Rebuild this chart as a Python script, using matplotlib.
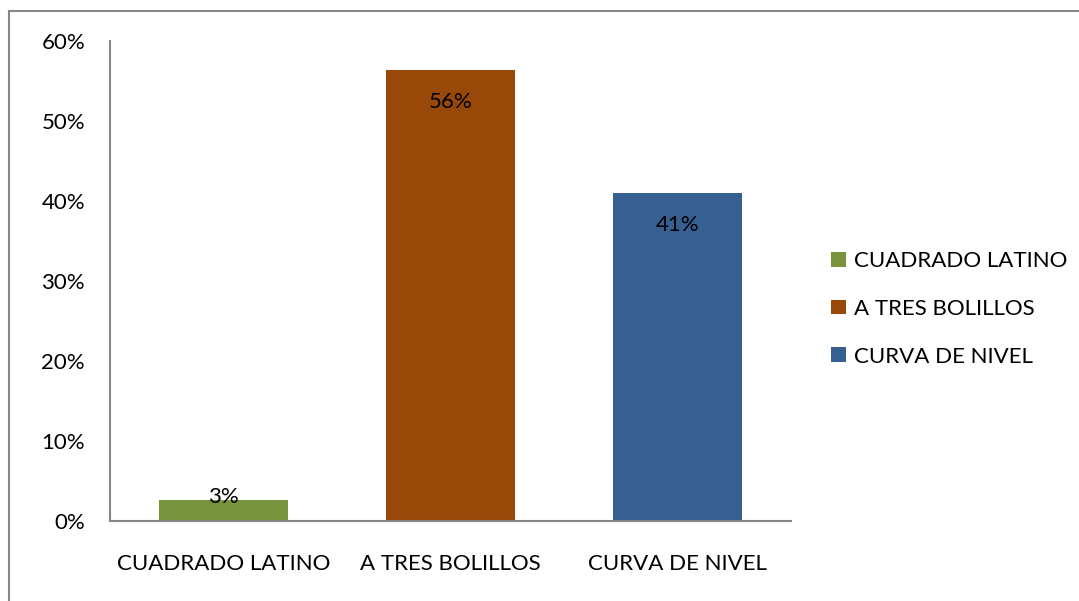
import matplotlib.pyplot as plt
from matplotlib.patches import Rectangle
from matplotlib.ticker import PercentFormatter

categories = ["CUADRADO LATINO", "A TRES BOLILLOS", "CURVA DE NIVEL"]
values = [0.026, 0.564, 0.41]
colors = ["#77933C", "#984807", "#376092"]
yticks = [0, 0.1, 0.2, 0.3, 0.4, 0.5, 0.6]

plt.rcParams['font.family'] = ['Lato', 'DejaVu Sans']
fs = 16

fig = plt.figure(figsize=(10.79, 6.01), dpi=100)
ax = fig.add_axes([0.102, 0.133, 0.631, 0.799])

x = range(len(categories))
bars = ax.bar(x, values, width=0.57, color=colors, label=categories)

for b, v in zip(bars, values):
    h = b.get_height()
    if h > 0.1:
        ax.text(b.get_x() + b.get_width() / 2, h - 0.028, f"{v:.0%}",
                ha="center", va="top", fontsize=fs)
    else:
        ax.text(b.get_x() + b.get_width() / 2, h - 0.008, f"{v:.0%}",
                ha="center", va="bottom", fontsize=fs)

ax.set_xlim(-0.5, 2.5)
ax.set_ylim(0, 0.6)
ax.set_yticks(yticks)
ax.yaxis.set_major_formatter(PercentFormatter(1.0, decimals=0))
ax.set_xticks(list(x))
ax.set_xticklabels(categories)
ax.tick_params(axis="both", length=0, labelsize=fs)
ax.tick_params(axis="y", pad=18)
ax.tick_params(axis="x", pad=24)

for s in ["top", "right"]:
    ax.spines[s].set_visible(False)
for s in ["left", "bottom"]:
    ax.spines[s].set_color("#868686")
    ax.spines[s].set_linewidth(1.5)

leg = ax.legend(handles=list(bars), labels=categories, loc="center left",
                bbox_to_anchor=(1.046, 0.442), frameon=False, fontsize=fs,
                borderaxespad=0, handlelength=0.65, handleheight=0.65,
                handletextpad=0.4, labelspacing=1.25)

# outer chart border
fig.patches.append(Rectangle((9 / 1079, -0.1), 1.2, (601 - 11) / 601 + 0.1,
                             transform=fig.transFigure, fill=False,
                             edgecolor="#868686", linewidth=1.5))

fig.savefig("out.png", dpi=100)
